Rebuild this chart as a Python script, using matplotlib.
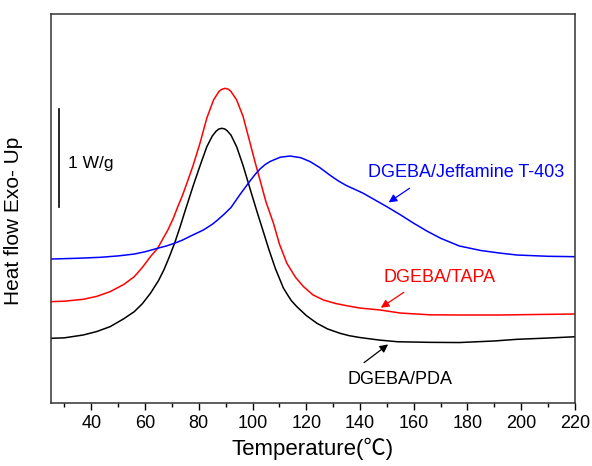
from matplotlib import pyplot as plt
from matplotlib import ticker as ticker

plt.rcParams['font.family'] = ['Liberation Sans', 'Noto Sans CJK SC', 'DejaVu Sans']

# DGEBA/PDA (black), heat flow in W/g (relative offset)
t_pda = [25, 30, 37, 42, 47, 52, 56, 59, 62, 65, 67, 69, 71, 73, 75, 78, 80.5, 83, 85, 86.5,
         87.5, 88.6, 89.7, 90.5, 92, 94.1, 96.5, 99, 101.5, 104, 106, 108.5, 110.3, 111.5,
         113.3, 114.5, 116.5, 120, 124, 128, 132.6, 136, 140, 147, 154, 166, 177, 190, 198.5,
         210, 220]
hf_pda = [0.657, 0.662, 0.691, 0.726, 0.776, 0.855, 0.929, 1.010, 1.116, 1.245, 1.354, 1.485,
          1.627, 1.790, 1.965, 2.220, 2.420, 2.612, 2.720, 2.772, 2.793, 2.800, 2.793, 2.777,
          2.730, 2.612, 2.420, 2.191, 1.965, 1.747, 1.572, 1.370, 1.250, 1.170, 1.090, 1.040,
          0.980, 0.890, 0.810, 0.752, 0.708, 0.684, 0.665, 0.640, 0.622, 0.616, 0.614, 0.630,
          0.647, 0.660, 0.673]

# DGEBA/TAPA (red)
t_tapa = [25, 30, 37, 42, 47, 52, 56, 59, 62, 64.7, 66.5, 68.5, 70.5, 72.2, 74, 76, 78, 80.5,
          83, 85.5, 87.5, 88.5, 89.8, 91, 92, 94.1, 96.5, 99.1, 101, 102.8, 105, 107.8, 110,
          112.8, 116, 119, 122.5, 126.4, 131, 135, 140, 147.5, 155, 166, 177, 192, 205, 220]
hf_tapa = [1.031, 1.036, 1.055, 1.085, 1.133, 1.205, 1.286, 1.380, 1.490, 1.576, 1.665, 1.762,
           1.880, 2.000, 2.120, 2.272, 2.430, 2.652, 2.905, 3.089, 3.175, 3.197, 3.208, 3.199,
           3.175, 3.089, 2.920, 2.650, 2.450, 2.272, 2.050, 1.831, 1.620, 1.422, 1.280, 1.184,
           1.100, 1.048, 1.012, 0.990, 0.966, 0.946, 0.915, 0.897, 0.895, 0.895, 0.900, 0.905]

# DGEBA/Jeffamine T-403 (blue)
t_jef = [25, 35, 43.6, 50, 56, 60, 64.7, 68, 71, 74, 77, 81.7, 85, 87, 89.5, 92, 95.5, 99,
         101, 102.8, 104.7, 106.6, 110.3, 114, 118, 121.5, 125, 128.9, 132, 135, 138, 141, 145,
         150, 155, 160, 165, 170, 177, 185, 192, 198.5, 210, 220]
hf_jef = [1.466, 1.474, 1.484, 1.498, 1.517, 1.540, 1.576, 1.600, 1.627, 1.660, 1.701, 1.762,
          1.820, 1.864, 1.925, 1.992, 2.130, 2.260, 2.330, 2.385, 2.430, 2.462, 2.505, 2.517,
          2.500, 2.459, 2.400, 2.320, 2.262, 2.215, 2.178, 2.140, 2.078, 2.000, 1.918, 1.831,
          1.750, 1.678, 1.599, 1.553, 1.527, 1.507, 1.494, 1.490]

fig = plt.figure(figsize=(5.92, 4.66), dpi=100)
ax = fig.add_axes([0.0861, 0.1358, 0.8851, 0.8341])

ax.plot(t_pda, hf_pda, color='black', lw=1.1)
ax.plot(t_tapa, hf_tapa, color='#ff0000', lw=1.1)
ax.plot(t_jef, hf_jef, color='#0000ff', lw=1.1)

ax.set_xlim(25, 220)
ax.set_ylim(0, 3.966)

# scale bar
ax.plot([28, 28], [2.0, 3.0], color='black', lw=1.2)
ax.text(31.4, 2.44, '1 W/g', fontsize=12.5, va='center', ha='left')

# labels with arrows
ax.annotate('', xy=(149.8, 2.028), xytext=(159.3, 2.204),
            arrowprops=dict(arrowstyle='-|>', color='#0000ff', lw=0.9, mutation_scale=12))
ax.text(143.0, 2.35, 'DGEBA/Jeffamine T-403', color='#0000ff', fontsize=13, va='center', ha='left')

ax.annotate('', xy=(146.9, 0.953), xytext=(157.2, 1.143),
            arrowprops=dict(arrowstyle='-|>', color='#ff0000', lw=0.9, mutation_scale=12))
ax.text(148.8, 1.276, 'DGEBA/TAPA', color='#ff0000', fontsize=13, va='center', ha='left')

ax.annotate('', xy=(151.3, 0.612), xytext=(140.7, 0.392),
            arrowprops=dict(arrowstyle='-|>', color='black', lw=0.9, mutation_scale=12))
ax.text(135.3, 0.239, 'DGEBA/PDA', color='black', fontsize=13, va='center', ha='left')

ax.set_xticks(range(40, 221, 20))
ax.xaxis.set_minor_locator(ticker.MultipleLocator(10))
ax.tick_params(axis='x', which='major', direction='out', length=5, width=1, labelsize=13, pad=4)
ax.tick_params(axis='x', which='minor', direction='out', length=3, width=1)
ax.set_yticks([])

for s in ax.spines.values():
    s.set_linewidth(1.1)
    s.set_color('#333333')

ax.set_xlabel('Temperature(℃)', fontsize=16, labelpad=4)
ax.set_ylabel('Heat flow Exo- Up', fontsize=15)
ax.yaxis.set_label_coords(-0.053, 0.467)

plt.savefig('out.png', dpi=100)
